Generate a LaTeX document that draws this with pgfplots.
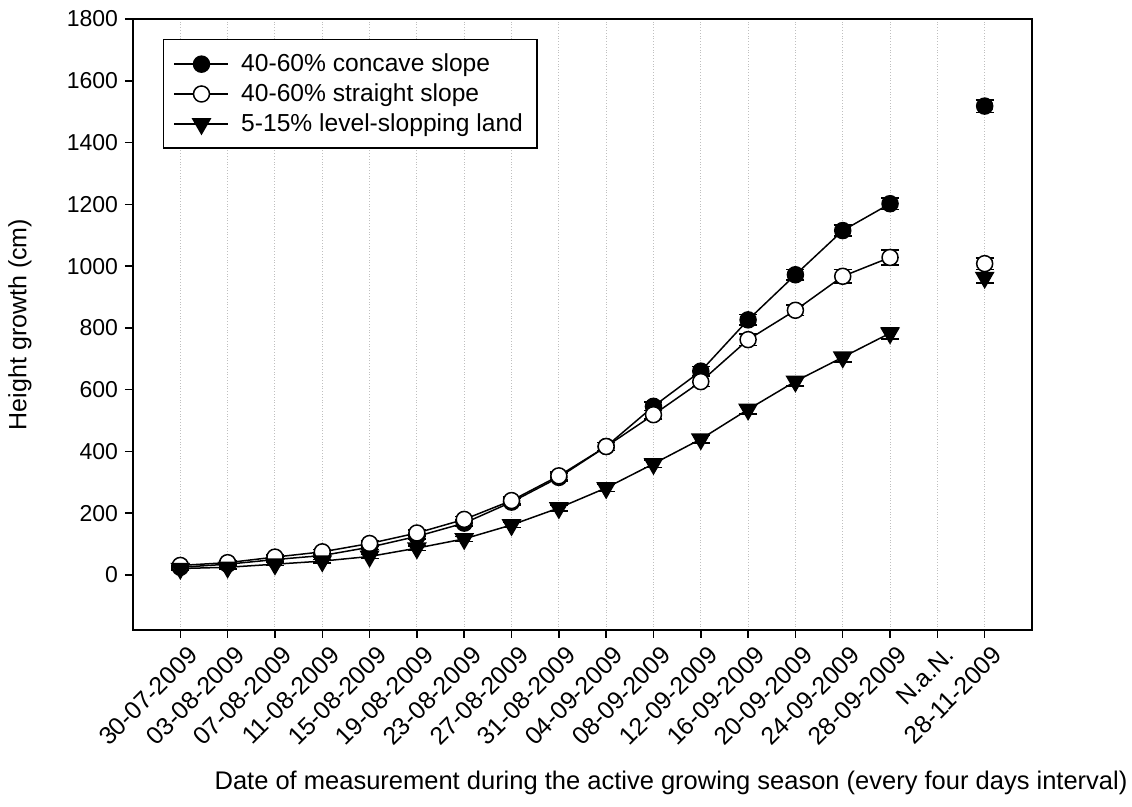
\documentclass[border=0pt]{standalone}
\usepackage{fontspec}
\setmainfont{Liberation Sans}
\usepackage{pgfplots}
\usepackage{pgfplotstable}
\pgfplotsset{compat=1.18}
\pgfplotstableread{
x c ce s se l le
0 25 6 31 6 21 5
1 35 6 40 6 25 5
2 50 6 58 7 35 5
3 63 7 75 7 45 6
4 90 8 102 8 60 6
5 125 9 136 9 87 7
6 168 10 180 10 117 8
7 236 11 241 11 162 9
8 316 12 321 12 217 10
9 416 13 416 13 282 11
10 546 14 519 14 360 12
11 660 15 626 16 440 13
12 826 17 762 19 536 14
13 972 17 857 17 627 15
14 1115 18 967 22 705 16
15 1202 19 1028 24 783 19
16 nan 0 nan 0 nan 0
17 1518 20 1008 19 963 17
}\data
\begin{document}
\begin{tikzpicture}[x=1pt,y=1pt]
\path[use as bounding box] (-66.5,-88.5) rectangle (499.5,315);
\begin{axis}[
  at={(0,0)}, anchor=south west,
  scale only axis, width=449.5pt, height=305.5pt,
  xmin=-1, xmax=18, ymin=-178, ymax=1800,
  xtick={0,...,17},
  xticklabels={30-07-2009,03-08-2009,07-08-2009,11-08-2009,15-08-2009,19-08-2009,23-08-2009,27-08-2009,31-08-2009,04-09-2009,08-09-2009,12-09-2009,16-09-2009,20-09-2009,24-09-2009,28-09-2009,N.a.N.,28-11-2009},
  ytick={0,200,...,1800},
  tick pos=left, tick align=outside, major tick length=4pt,
  xmajorgrids, grid style={densely dotted, black!25, line width=0.5pt},
  axis line style={line width=1pt},
  every tick/.style={black, line width=0.75pt},
  font=\fontsize{11.5}{13.8}\selectfont,
  /pgf/number format/assume math mode=true,
  /pgf/number format/1000 sep={},
  yticklabel style={font=\fontsize{11.5}{13.8}\selectfont},
  xticklabel style={font=\fontsize{12.4}{14.8}\selectfont, rotate=45, anchor=north east, inner sep=1pt, yshift=-3.5pt, xshift=1pt},
  xlabel={Date of measurement during the active growing season (every four days interval)},
  xlabel style={at={(axis description cs:0.5985,0)}, anchor=base, yshift=-80pt, font=\fontsize{12.75}{15}\selectfont},
  ylabel={Height growth (cm)},
  ylabel style={at={(axis description cs:-0.1257,0.5)}, anchor=center, font=\fontsize{12.5}{15}\selectfont},
  unbounded coords=jump,
  legend style={at={(0,1)}, anchor=north west, xshift=15pt, yshift=-10pt, draw=black, line width=0.75pt, font=\fontsize{12.3}{14.6}\selectfont, inner xsep=5pt, inner ysep=5pt, row sep=0.5pt,
    /tikz/every odd column/.append style={column sep=4pt}},
  legend cell align=left,
  legend image code/.code={\draw[line width=0.75pt, mark repeat=2,mark phase=2] plot coordinates {(0pt,0pt)(13.5pt,0pt)(27pt,0pt)};},
]
\addplot[black, line width=0.75pt, mark=*, mark size=4pt, mark options={fill=black, solid},
  error bars/.cd, y dir=both, y explicit, error bar style={line width=0.6pt}, error mark options={rotate=90, mark size=4.5pt, line width=0.75pt}]
  table[x=x, y=c, y error=ce] {\data};
\addlegendentry{40-60\% concave slope}
\addplot[black, line width=0.75pt, mark=*, mark size=4pt, mark options={fill=white, solid},
  error bars/.cd, y dir=both, y explicit, error bar style={line width=0.6pt}, error mark options={rotate=90, mark size=4.5pt, line width=0.75pt}]
  table[x=x, y=s, y error=se] {\data};
\addlegendentry{40-60\% straight slope}
\addplot[black, line width=0.75pt, mark=triangle*, mark size=5pt, mark options={fill=black, solid, rotate=180},
  error bars/.cd, y dir=both, y explicit, error bar style={line width=0.6pt}, error mark options={rotate=90, mark size=4.5pt, line width=0.75pt}]
  table[x=x, y=l, y error=le] {\data};
\addlegendentry{5-15\% level-slopping land}
\end{axis}
\end{tikzpicture}
\end{document}
